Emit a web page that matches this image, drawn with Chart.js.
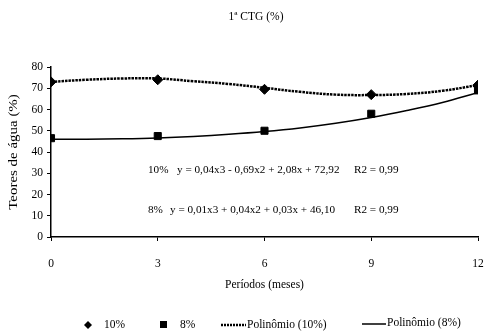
<!DOCTYPE html>
<html>
<head>
<meta charset="utf-8">
<script src="https://cdn.jsdelivr.net/npm/chart.js"></script>
<style>
  html, body { margin: 0; padding: 0; background: #fff; }
  #wrap { width: 484px; height: 336px; }
</style>
</head>
<body>
<div id="wrap"><canvas id="ctg"></canvas></div>
<script>
// values
const months = [0, 3, 6, 9, 12];
const water10 = [73, 74, 69.5, 67, 71.5];
const water8 = [46.5, 47.5, 50, 58, 69];

// trend curves, one value per month (0..12)
const trendMonths = [0, 1, 2, 3, 4, 5, 6, 7, 8, 9, 10, 11, 12];
const trend10 = [73, 74, 74.6, 74.6, 73.3, 72, 70.2, 68.3, 67, 66.8, 67.3, 68.8, 71.5];
const trend8 = [46, 46, 46.2, 46.6, 47.3, 48.3, 49.6, 51.3, 53.5, 56.2, 59.5, 63.3, 68];

const titleText = '1ª CTG (%)';
const yTitle = 'Teores de água (%)';
const equations = [
  { label: '10%', eq: 'y = 0,04x3 - 0,69x2 + 2,08x + 72,92', r2: 'R2 = 0,99', at: 31.5, eqX: 177 },
  { label: '8%', eq: 'y = 0,01x3 + 0,04x2 + 0,03x + 46,10', r2: 'R2 = 0,99', at: 12.7, eqX: 170 }
];

const FONT = 'Liberation Serif, Times New Roman, serif';
Chart.defaults.font.family = FONT;
Chart.defaults.font.size = 11.5;
Chart.defaults.color = '#000';

const toXY = (xs, ys) => xs.map((x, i) => ({ x: x, y: ys[i] }));

// title, y title, equations and legend drawn on the canvas
const extras = {
  id: 'extras',
  afterDraw(chart) {
    const ctx = chart.ctx;
    const ys = chart.scales.y;
    ctx.save();
    ctx.fillStyle = '#000';
    ctx.strokeStyle = '#000';
    ctx.textBaseline = 'middle';

    ctx.font = '11.5px ' + FONT;
    ctx.textAlign = 'center';
    ctx.fillText(titleText, 256, 17);

    // y title, a bit stretched like the original
    ctx.save();
    ctx.translate(14, (ys.top + ys.bottom) / 2);
    ctx.rotate(-Math.PI / 2);
    ctx.scale(1.3, 1);
    ctx.fillText(yTitle, 0, 0);
    ctx.restore();

    ctx.textAlign = 'left';
    ctx.font = '11.2px ' + FONT;
    equations.forEach(e => {
      const y = ys.getPixelForValue(e.at);
      ctx.fillText(e.label, 148, y);
      ctx.fillText(e.eq, e.eqX, y);
      ctx.fillText(e.r2, 354, y);
    });

    // legend
    ctx.font = '11.5px ' + FONT;
    const ly = 325;
    ctx.beginPath();
    ctx.moveTo(88, ly - 4); ctx.lineTo(92, ly); ctx.lineTo(88, ly + 4); ctx.lineTo(84, ly);
    ctx.closePath(); ctx.fill();
    ctx.fillText('10%', 104, ly);
    ctx.fillRect(160, ly - 4, 7, 7);
    ctx.fillText('8%', 180, ly);
    ctx.lineWidth = 2.5;
    ctx.setLineDash([2, 1]);
    ctx.beginPath(); ctx.moveTo(221, ly); ctx.lineTo(246, ly); ctx.stroke();
    ctx.fillText('Polinômio (10%)', 247, ly);
    ctx.setLineDash([]);
    ctx.lineWidth = 1.5;
    ctx.beginPath(); ctx.moveTo(362, ly - 1); ctx.lineTo(386, ly - 1); ctx.stroke();
    ctx.fillText('Polinômio (8%)', 387, ly - 2);
    ctx.restore();
  }
};

new Chart(document.getElementById('ctg'), {
  type: 'line',
  data: {
    datasets: [
      {
        label: 'Polinômio (10%)',
        data: toXY(trendMonths, trend10),
        borderColor: '#000',
        borderWidth: 2.5,
        borderDash: [2.5, 1],
        pointRadius: 0,
        tension: 0.4,
        fill: false
      },
      {
        label: 'Polinômio (8%)',
        data: toXY(trendMonths, trend8),
        borderColor: '#000',
        borderWidth: 1.5,
        pointRadius: 0,
        tension: 0.4,
        fill: false
      },
      {
        label: '10%',
        data: toXY(months, water10),
        showLine: false,
        pointStyle: 'rectRot',
        pointRadius: 5,
        backgroundColor: '#000',
        borderColor: '#000'
      },
      {
        label: '8%',
        data: toXY(months, water8),
        showLine: false,
        pointStyle: 'rect',
        pointRadius: 5,
        backgroundColor: '#000',
        borderColor: '#000'
      }
    ]
  },
  options: {
    responsive: true,
    maintainAspectRatio: false,
    animation: false,
    layout: { padding: { left: 0, right: 4, top: 67, bottom: 0 } },
    plugins: {
      legend: { display: false },
      tooltip: { enabled: false },
      title: { display: false }
    },
    scales: {
      x: {
        type: 'linear',
        min: 0,
        max: 12,
        ticks: { stepSize: 3, padding: 16 },
        grid: { drawOnChartArea: false, tickLength: 4, color: '#000' },
        border: { color: '#000', width: 1.5 },
        title: { display: true, text: 'Períodos (meses)', padding: { bottom: 44 } },
        afterFit(s) { s.height = 99; s.paddingLeft = 0; s.paddingRight = 0; }
      },
      y: {
        min: 0,
        max: 80,
        ticks: { stepSize: 10, padding: 4 },
        grid: { drawOnChartArea: false, tickLength: 4, color: '#000' },
        border: { color: '#000', width: 1.5 },
        title: { display: false },
        afterFit(s) { s.width = 51; s.paddingTop = 0; s.paddingBottom = 0; }
      }
    }
  },
  plugins: [extras]
});
</script>
</body>
</html>
